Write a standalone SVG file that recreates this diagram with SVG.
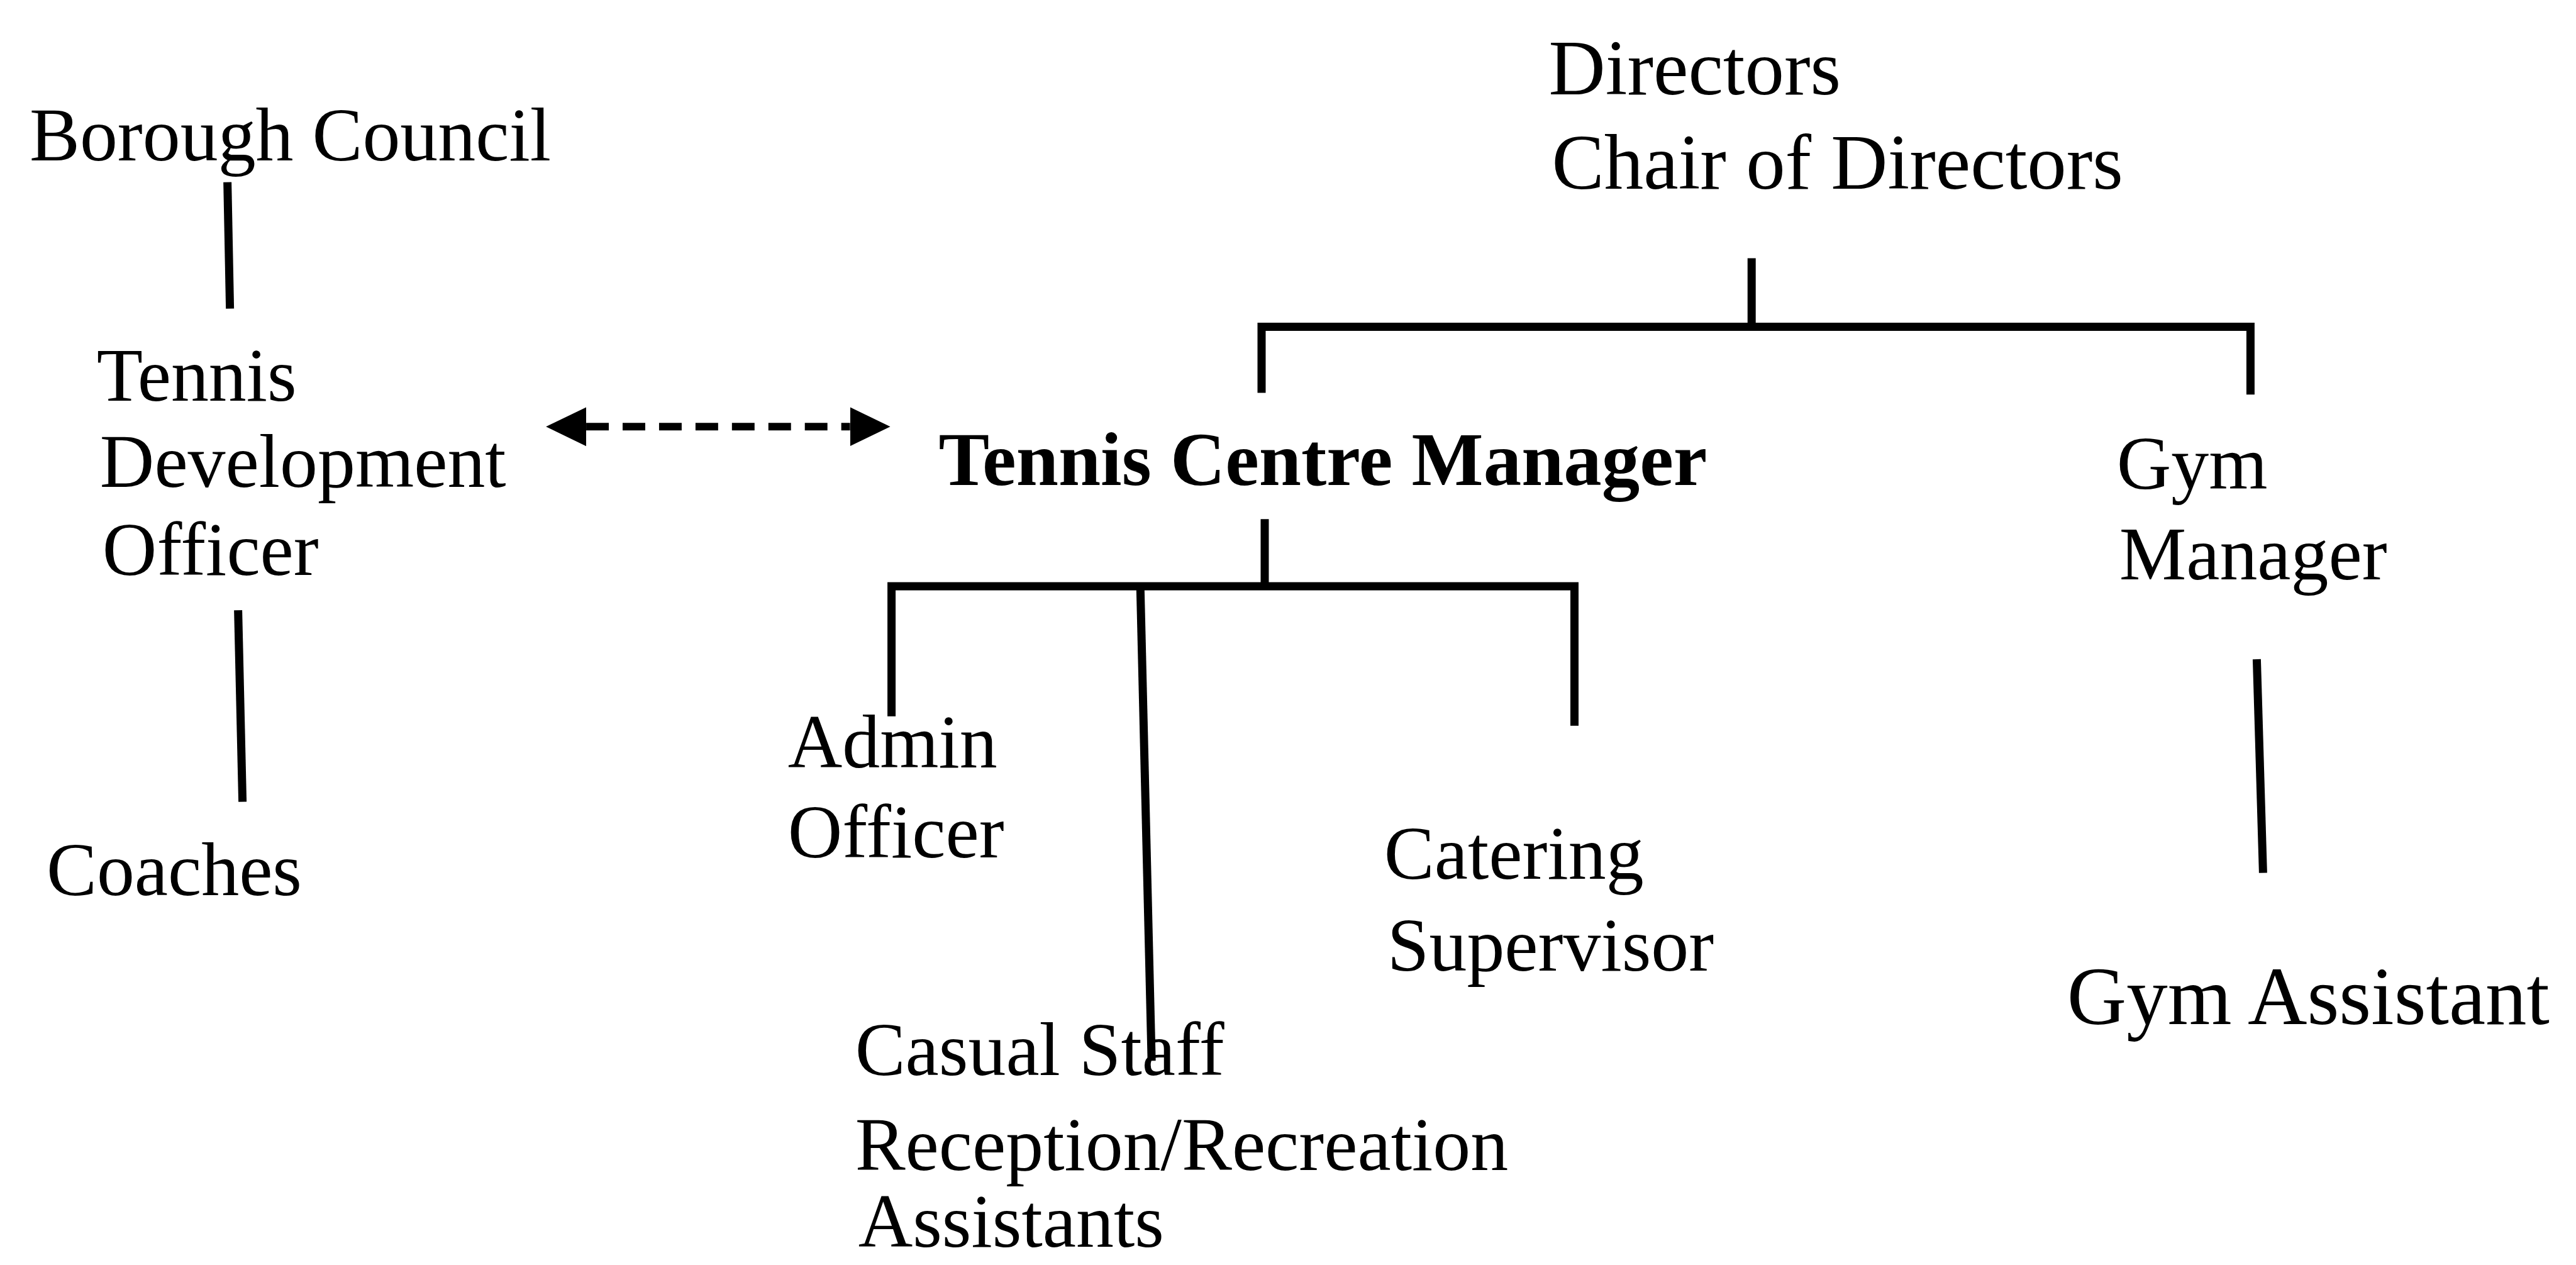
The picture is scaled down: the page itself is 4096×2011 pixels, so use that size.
<svg xmlns="http://www.w3.org/2000/svg" width="4096" height="2011" viewBox="0 0 4096 2011">
  <style>
    .lbl { font-family: "Liberation Serif", "Times New Roman", serif; font-size: 120px; fill: #000; }
    .big { font-size: 125px; }
    .bold { font-weight: bold; font-size: 121px; }
    .link { fill: none; stroke: #000; stroke-width: 13; stroke-linejoin: miter; }
    .dash { fill: none; stroke: #000; stroke-width: 12; stroke-dasharray: 36 22; }
  </style>
  <defs>
    <marker id="head" markerUnits="userSpaceOnUse" markerWidth="70" markerHeight="66" refX="0" refY="33" orient="auto-start-reverse">
      <path d="M0,2 L64,33 L0,64 Z" fill="#000"/>
    </marker>
  </defs>
  <rect width="4096" height="2011" fill="#fff"/>
  <g transform="scale(0.999)">
    <g id="connectors">
      <path class="link" d="M362,290 L366,491"/>
      <path class="link" d="M379,971 L386,1276"/>
      <path class="link" d="M2788,411 L2788,520"/>
      <path class="link" d="M2008,625 L2008,520 L3582,520 L3582,628"/>
      <path class="link" d="M2013,826 L2013,933"/>
      <path class="link" d="M1419,1140 L1419,933 L2506,933 L2506,1155"/>
      <path class="link" d="M1815,933 L1833,1688"/>
      <path class="link" d="M3592,1049 L3602,1389"/>
      <path class="dash" d="M933,679 L1353,679" marker-start="url(#head)" marker-end="url(#head)"/>
    </g>
    <g id="borough-council">
      <text class="lbl" x="47" y="255">Borough Council</text>
    </g>
    <g id="tennis-development-officer">
      <text class="lbl" x="154" y="638">Tennis</text>
      <text class="lbl" x="159" y="775">Development</text>
      <text class="lbl" x="163" y="915">Officer</text>
    </g>
    <g id="coaches">
      <text class="lbl" x="74" y="1424">Coaches</text>
    </g>
    <g id="directors">
      <text class="lbl big" x="2465" y="150">Directors</text>
      <text class="lbl big" x="2470" y="300">Chair of Directors</text>
    </g>
    <g id="tennis-centre-manager">
      <text class="lbl bold" x="1494" y="772">Tennis Centre Manager</text>
    </g>
    <g id="gym-manager">
      <text class="lbl" x="3369" y="778">Gym</text>
      <text class="lbl" x="3373" y="922">Manager</text>
    </g>
    <g id="admin-officer">
      <text class="lbl" x="1254" y="1221">Admin</text>
      <text class="lbl" x="1254" y="1364">Officer</text>
    </g>
    <g id="catering-supervisor">
      <text class="lbl" x="2203" y="1398">Catering</text>
      <text class="lbl" x="2208" y="1545">Supervisor</text>
    </g>
    <g id="casual-staff">
      <text class="lbl" x="1361" y="1711">Casual Staff</text>
      <text class="lbl" x="1361" y="1862">Reception/Recreation</text>
      <text class="lbl" x="1366" y="1984">Assistants</text>
    </g>
    <g id="gym-assistant">
      <text class="lbl" x="3290" y="1630" style="font-size:131px">Gym Assistant</text>
    </g>
  </g>
</svg>
